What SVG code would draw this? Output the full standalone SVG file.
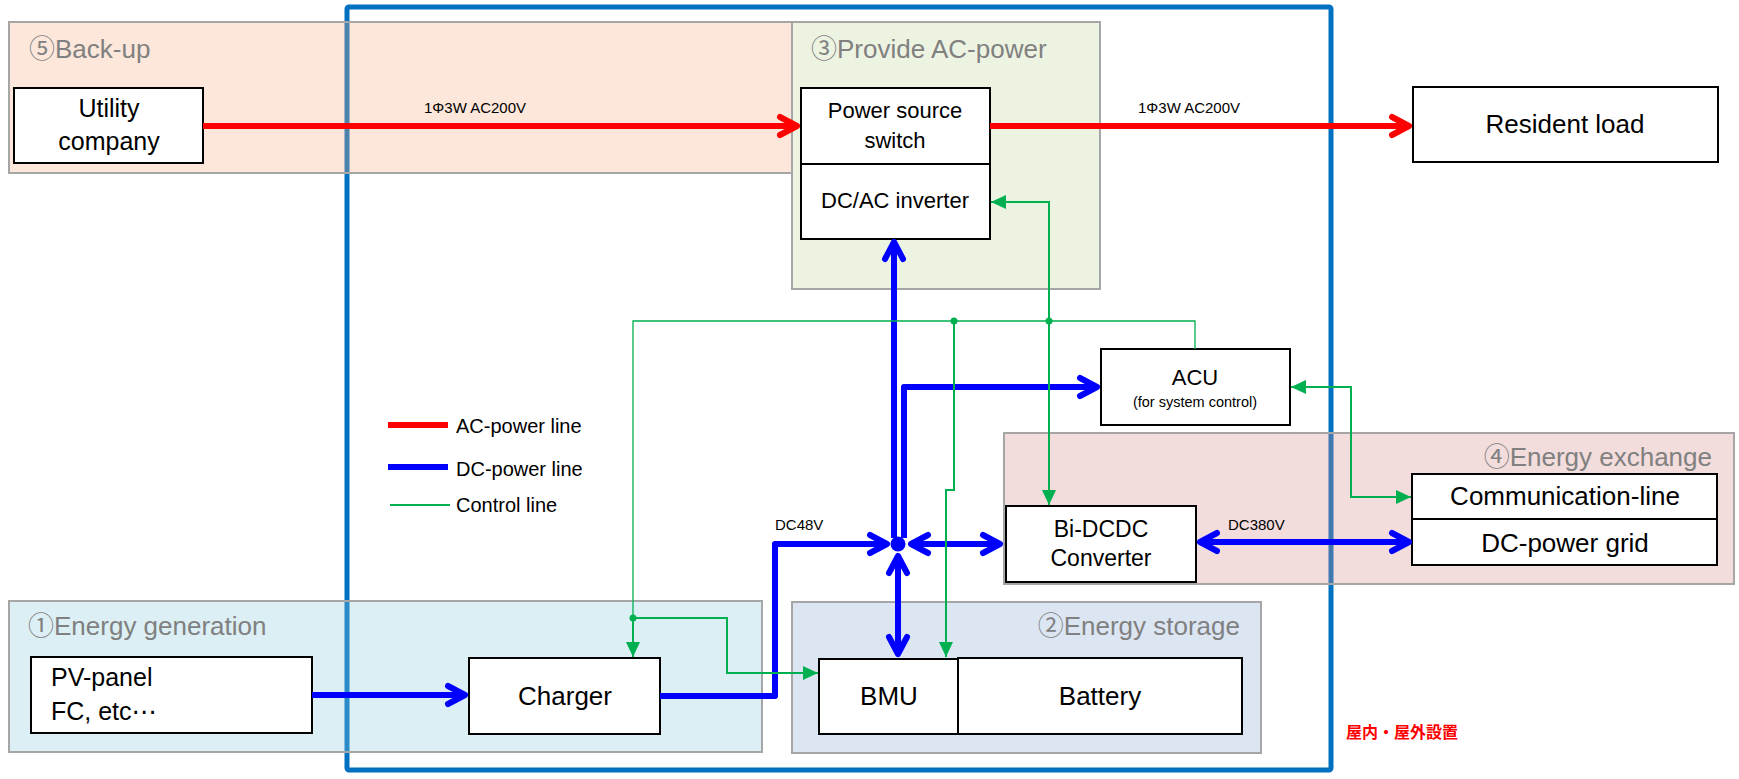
<svg xmlns="http://www.w3.org/2000/svg" width="1739" height="779" viewBox="0 0 1739 779">
<defs>
<style>
.region{stroke:#A6A6A6;stroke-width:2;fill-opacity:0.3}
.rlabel{font-family:"Liberation Sans","Noto Sans CJK JP",sans-serif;font-size:26px;fill:#808080}
.box{fill:#fff;stroke:#000;stroke-width:2}
.t{font-family:"Liberation Sans","Noto Sans CJK JP",sans-serif;fill:#000;text-anchor:middle}
.tl{font-family:"Liberation Sans","DejaVu Sans",sans-serif;fill:#000;text-anchor:start}
.ac{stroke:#FF0000;stroke-width:6;fill:none}
.dc{stroke:#0000FF;stroke-width:6;fill:none;stroke-linejoin:round}
.ctl{stroke:#00B050;stroke-width:2;fill:none}
.bus{stroke:#00B050;stroke-width:1.3;fill:none}
.small{font-family:"Liberation Sans",sans-serif;font-size:15px;fill:#000}
.leg{font-family:"Liberation Sans",sans-serif;font-size:20px;fill:#000}
</style>
<marker id="chevR" markerUnits="userSpaceOnUse" markerWidth="40" markerHeight="40" viewBox="-20 -20 40 40" refX="0" refY="0" orient="auto-start-reverse" overflow="visible">
<path d="M-17,-9 L0,0 L-17,9" fill="none" stroke="#FF0000" stroke-width="6" stroke-linecap="round" stroke-linejoin="round"/>
</marker>
<marker id="chevB" markerUnits="userSpaceOnUse" markerWidth="40" markerHeight="40" viewBox="-20 -20 40 40" refX="0" refY="0" orient="auto-start-reverse" overflow="visible">
<path d="M-17,-9 L0,0 L-17,9" fill="none" stroke="#0000FF" stroke-width="6" stroke-linecap="round" stroke-linejoin="round"/>
</marker>
<marker id="triG" markerUnits="userSpaceOnUse" markerWidth="40" markerHeight="40" viewBox="-20 -20 40 40" refX="0" refY="0" orient="auto-start-reverse" overflow="visible">
<path d="M-15,-7 L0,0 L-15,7 Z" fill="#00B050"/>
</marker>
</defs>
<rect x="0" y="0" width="1739" height="779" fill="#fff"/>

<!-- outer system boundary -->
<rect id="boundary" x="347" y="7" width="984" height="763" rx="2" fill="none" stroke="#0070C0" stroke-width="5"/>

<!-- regions -->
<g id="region-backup">
<rect class="region" x="9" y="22" width="783" height="151" fill="#F4B183"/>
<text class="rlabel" x="29" y="58">⑤Back-up</text>
</g>
<g id="region-provide-ac">
<rect class="region" x="792" y="22" width="308" height="267" fill="#C3D69B"/>
<text class="rlabel" x="811" y="58">③Provide AC-power</text>
</g>
<g id="region-exchange">
<rect class="region" x="1004" y="433" width="730" height="151" fill="#D48C8A"/>
<text class="rlabel" x="1712" y="466" text-anchor="end">④Energy exchange</text>
</g>
<g id="region-generation">
<rect class="region" x="9" y="601" width="753" height="151" fill="#8CCAD9"/>
<text class="rlabel" x="28" y="635">①Energy generation</text>
</g>
<g id="region-storage">
<rect class="region" x="792" y="602" width="469" height="151" fill="#8AACD6"/>
<text class="rlabel" x="1240" y="635" text-anchor="end">②Energy storage</text>
</g>

<!-- nodes -->
<g id="utility">
<rect class="box" x="14" y="88" width="189" height="75"/>
<text class="t" x="109" y="117" font-size="25">Utility</text>
<text class="t" x="109" y="150" font-size="25">company</text>
</g>
<g id="power-switch">
<rect class="box" x="801" y="88" width="189" height="76"/>
<text class="t" x="895" y="118" font-size="22">Power source</text>
<text class="t" x="895" y="148" font-size="22">switch</text>
</g>
<g id="dcac-inverter">
<rect class="box" x="801" y="164" width="189" height="75"/>
<text class="t" x="895" y="208" font-size="22">DC/AC inverter</text>
</g>
<g id="resident-load">
<rect class="box" x="1413" y="87" width="305" height="75"/>
<text class="t" x="1565" y="133" font-size="26">Resident load</text>
</g>
<g id="acu">
<rect class="box" x="1101" y="349" width="189" height="76"/>
<text class="t" x="1195" y="385" font-size="22">ACU</text>
<text class="t" x="1195" y="407" font-size="14.5">(for system control)</text>
</g>
<g id="bidcdc">
<rect class="box" x="1006" y="506" width="190" height="76"/>
<text class="t" x="1101" y="537" font-size="23">Bi-DCDC</text>
<text class="t" x="1101" y="566" font-size="23">Converter</text>
</g>
<g id="comm-line">
<rect class="box" x="1412" y="474" width="305" height="45"/>
<text class="t" x="1565" y="505" font-size="26">Communication-line</text>
</g>
<g id="dc-grid">
<rect class="box" x="1412" y="519" width="305" height="46"/>
<text class="t" x="1565" y="552" font-size="26">DC-power grid</text>
</g>
<g id="pv-panel">
<rect class="box" x="31" y="657" width="281" height="76"/>
<text class="tl" x="51" y="686" font-size="25">PV-panel</text>
<text class="tl" x="51" y="720" font-size="25">FC, etc⋯</text>
</g>
<g id="charger">
<rect class="box" x="469" y="658" width="191" height="76"/>
<text class="t" x="565" y="705" font-size="26">Charger</text>
</g>
<g id="bmu">
<rect class="box" x="819" y="659" width="139" height="75"/>
<text class="t" x="889" y="705" font-size="26">BMU</text>
</g>
<g id="battery">
<rect class="box" x="958" y="658" width="284" height="76"/>
<text class="t" x="1100" y="705" font-size="26">Battery</text>
</g>

<!-- connectors -->
<g id="connectors">
<path class="ac" d="M203,126 L797,126" marker-end="url(#chevR)"/>
<path class="ac" d="M990,126 L1409,126" marker-end="url(#chevR)"/>
<text class="small" x="424" y="113">1Φ3W AC200V</text>
<text class="small" x="1138" y="113">1Φ3W AC200V</text>

<path class="dc" d="M312,695 L465,695" marker-end="url(#chevB)"/>
<path class="dc" d="M660,696 L775,696 L775,544 L887,544" marker-end="url(#chevB)"/>
<path class="dc" d="M911,544 L1000,544" marker-start="url(#chevB)" marker-end="url(#chevB)"/>
<path class="dc" d="M898,556 L898,654" marker-start="url(#chevB)" marker-end="url(#chevB)"/>
<path class="dc" d="M894,538 L894,242" marker-end="url(#chevB)"/>
<path class="dc" d="M904,538 L904,387 L1097,387" marker-end="url(#chevB)"/>
<path class="dc" d="M1200,542 L1409,542" marker-start="url(#chevB)" marker-end="url(#chevB)"/>
<circle cx="898" cy="544" r="7.5" fill="#0000FF"/>
<text class="small" x="775" y="530">DC48V</text>
<text class="small" x="1228" y="530">DC380V</text>

<path class="bus" d="M633,618 L633,321 L1195,321 L1195,349"/>
<path class="ctl" d="M633,618 L633,657" marker-end="url(#triG)"/>
<path class="ctl" d="M633,618 L727,618 L727,673 L818,673" marker-end="url(#triG)"/>
<path class="ctl" d="M991,202 L1049,202 L1049,505" marker-start="url(#triG)" marker-end="url(#triG)"/>
<path class="ctl" d="M954,321 L954,490 L946,490 L946,657" marker-end="url(#triG)"/>
<path class="ctl" d="M1291,387 L1351,387 L1351,497 L1411,497" marker-start="url(#triG)" marker-end="url(#triG)"/>
<circle cx="633" cy="618" r="3.5" fill="#00B050"/>
<circle cx="954" cy="321" r="3.5" fill="#00B050"/>
<circle cx="1049" cy="321" r="3.5" fill="#00B050"/>
</g>

<!-- legend -->
<g id="legend">
<line x1="388" y1="425" x2="448" y2="425" stroke="#FF0000" stroke-width="6"/>
<text class="leg" x="456" y="433">AC-power line</text>
<line x1="388" y1="467" x2="448" y2="467" stroke="#0000FF" stroke-width="6"/>
<text class="leg" x="456" y="476">DC-power line</text>
<line x1="390" y1="505" x2="450" y2="505" stroke="#00B050" stroke-width="2"/>
<text class="leg" x="456" y="512">Control line</text>
</g>

<text x="1346" y="738" font-family="Noto Sans CJK JP, sans-serif" font-size="16" font-weight="bold" fill="#FF0000">屋内・屋外設置</text>
</svg>
